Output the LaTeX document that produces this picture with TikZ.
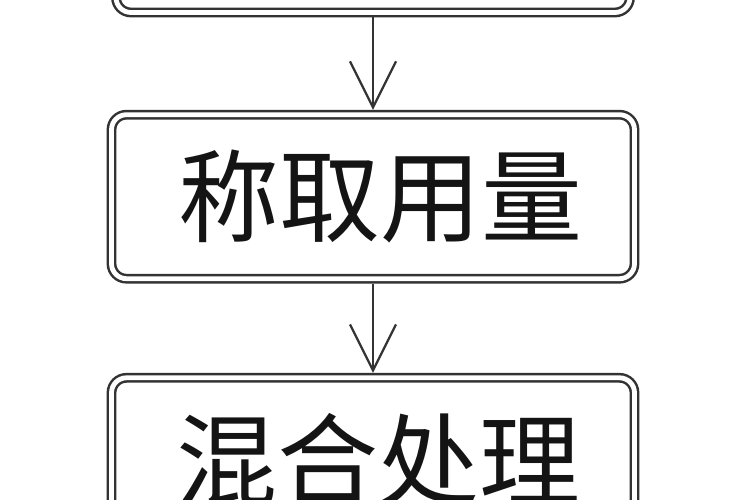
\documentclass[tikz,border=0pt]{standalone}
\usepackage{fontspec}
\newfontfamily\cjk{Noto Sans CJK SC}
\usetikzlibrary{arrows.meta}
\definecolor{linegray}{HTML}{333333}
\definecolor{textblack}{HTML}{141414}
\tikzset{
  stepbox/.style={draw=linegray, line width=2.5pt, double=white, double distance=4.8pt,
    rounded corners=15pt, inner sep=0pt, outer sep=4.9pt,
    minimum width=523pt, minimum height=164pt,
    font=\cjk\fontsize{101}{101}\selectfont, text=textblack},
  flow/.style={draw=linegray, line width=2pt,
    -{Straight Barb[length=46pt,width=46pt,line width=2.2pt]}}
}
\begin{document}
\begin{tikzpicture}[x=1pt,y=-1pt]
\useasboundingbox (0,0) rectangle (750,500);
\fill[white] (0,0) rectangle (750,500);
\clip (0,0) rectangle (750,500);
\node[stepbox, minimum width=514pt] (top) at (373,-69.5) {};
\node[stepbox] (mid) at (373,196.7) {\hspace*{14pt}称取用量};
\node[stepbox] (bot) at (373,459.8) {\hspace*{10pt}混合处理};
\draw[flow] (top.south) -- (mid.north);
\draw[flow] (mid.south) -- (bot.north);
\end{tikzpicture}
\end{document}
